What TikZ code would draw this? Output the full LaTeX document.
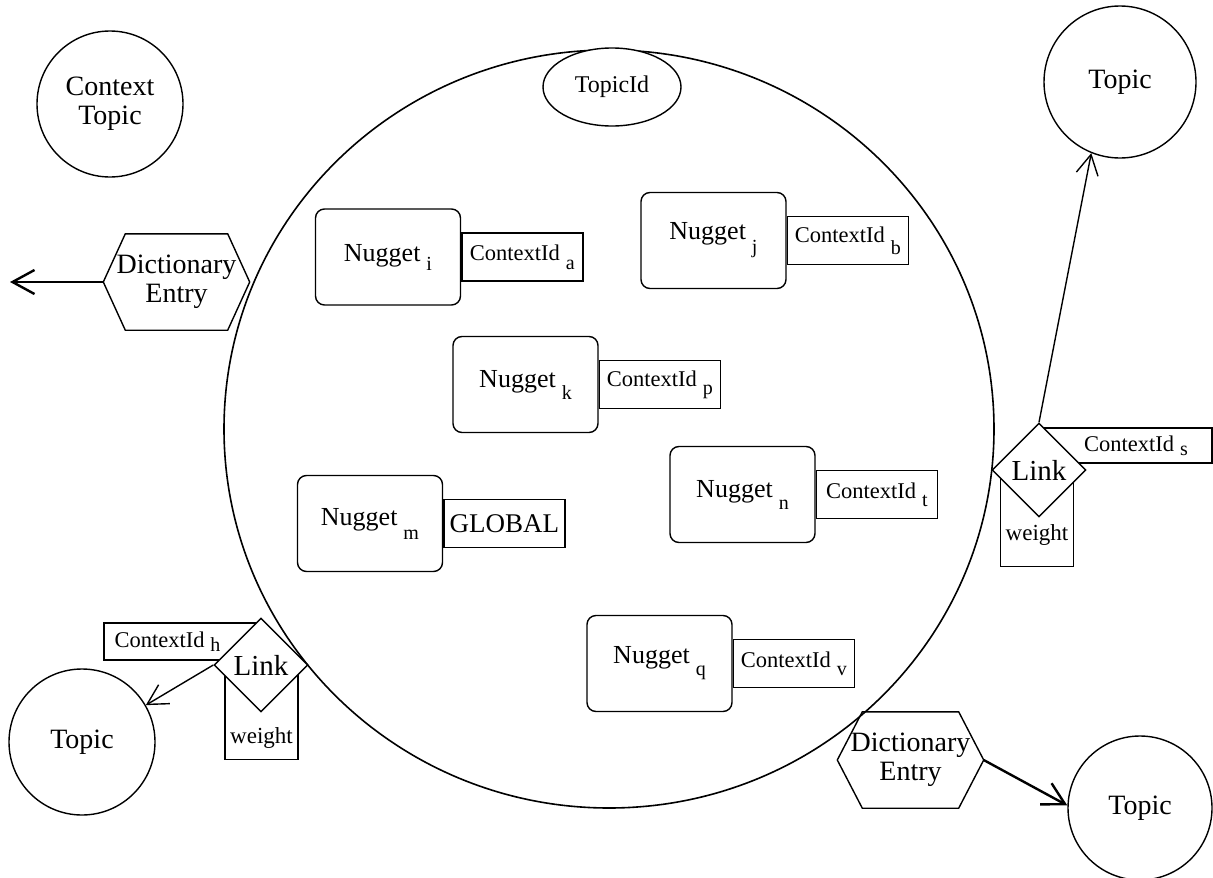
\documentclass[tikz,border=0pt]{standalone}
\usepackage{fontspec}
\setmainfont{Liberation Serif}
\usetikzlibrary{shapes.geometric,arrows.meta}
\newcommand{\lsub}[2][9pt]{\hspace{6pt}\raisebox{-#1}{\fontsize{20}{20}\selectfont #2}}
\begin{document}
\begin{tikzpicture}[x=1pt,y=-1pt,
  base/.style={line width=1.4pt},
  big/.style={font=\fontsize{28}{29}\selectfont},
  nug/.style={base,draw,rounded corners=9pt,minimum width=145pt,minimum height=96pt,inner sep=0pt,font=\fontsize{26}{28}\selectfont},
  ctx/.style={base,draw,minimum width=121pt,minimum height=48pt,inner sep=0pt,font=\fontsize{22.5}{24}\selectfont,anchor=west},
  topic/.style={base,draw,circle,inner sep=0pt,big,align=center},
  hexnode/.style={minimum width=146pt,minimum height=96pt,inner sep=0pt,big,align=center},
  linkd/.style={base,draw,diamond,fill=white,minimum width=94pt,minimum height=94pt,inner sep=0pt,font=\fontsize{29}{30}\selectfont},
  wbox/.style={base,draw,minimum width=73pt,inner sep=0pt,font=\fontsize{23}{24}\selectfont,anchor=south},
  arr/.style={line width=1.4pt,-{Straight Barb[length=20pt,width=22pt]}},
  thickarr/.style={line width=2.4pt,-{Straight Barb[length=22pt,width=24pt]}},
]
\useasboundingbox (0,0) rectangle (1213,878);
% main topic (circle)
\node[draw,ellipse,minimum width=770pt,minimum height=758pt,line width=1.6pt,inner sep=0pt] (main) at (609,429) {};
\node[base,draw,ellipse,fill=white,minimum width=138pt,minimum height=78pt,inner sep=0pt,font=\fontsize{24}{24}\selectfont] (tid) at (612,87) {TopicId};
% topics
\node[topic,minimum size=146pt] (ct) at (110,104) {Context\\Topic};
\node[topic,minimum size=152pt] (tr) at (1120,82) {Topic};
\node[topic,minimum size=146pt] (bl) at (82,742) {Topic};
\node[topic,minimum size=144pt] (br) at (1140,808) {Topic};
% dictionary entries
\node[hexnode] (de1) at (176.5,282) {Dictionary\\Entry};
\draw[base] (de1.west) -- ([xshift=22pt]de1.north west) -- ([xshift=-22pt]de1.north east) -- (de1.east) -- ([xshift=-22pt]de1.south east) -- ([xshift=22pt]de1.south west) -- cycle;
\node[hexnode] (de2) at (910.5,760) {Dictionary\\Entry};
\draw[base] (de2.west) -- ([xshift=25pt]de2.north west) -- ([xshift=-25pt]de2.north east) -- (de2.east) -- ([xshift=-25pt]de2.south east) -- ([xshift=25pt]de2.south west) -- cycle;
\coordinate (de1end) at (10,282);
\draw[thickarr] (de1.west) -- (de1end);
\draw[thickarr] (de2.east) -- (br.178);
% nuggets
\node[nug] (ni) at (388,257) {Nugget\lsub{i}};
\node[ctx] (ca) at (ni.east) {ContextId\lsub{a}};
\node[nug] (nj) at (713.5,240.5) {Nugget\lsub[14pt]{j}};
\node[ctx] (cb) at (nj.east) {ContextId\lsub[12pt]{b}};
\node[nug] (nk) at (525.5,384.5) {Nugget\lsub[12pt]{k}};
\node[ctx] (cp) at (nk.east) {ContextId\lsub[8pt]{p}};
\node[nug] (nm) at (370,523.5) {Nugget\lsub[14pt]{m}};
\node[ctx,font=\fontsize{27}{28}\selectfont] (cg) at (nm.east) {GLOBAL};
\node[nug] (nn) at (742.5,494.5) {Nugget\lsub[12pt]{n}};
\node[ctx] (ct) at (nn.east) {ContextId\lsub[8pt]{t}};
\node[nug] (nq) at (659.5,663.5) {Nugget\lsub[12pt]{q}};
\node[ctx] (cv) at (nq.east) {ContextId\lsub[8pt]{v}};
% right link
\node[base,draw,minimum width=172pt,minimum height=35pt,inner sep=0pt,font=\fontsize{22.5}{24}\selectfont] (cs) at (1126,445.5) {\hspace*{20pt}ContextId\lsub[4pt]{s}};
\node[wbox,minimum height=97pt,text height=51pt,text depth=6pt] (wr) at (1037,567) {weight};
\node[linkd] (lr) at (1039,470) {Link};
\draw[arr] (lr.north) -- (tr.248);
% left link
\node[base,draw,minimum width=151pt,minimum height=37pt,inner sep=0pt,font=\fontsize{22.5}{24}\selectfont] (ch) at (179.5,641.5) {ContextId\lsub[4pt]{h}\hspace*{24pt}};
\node[wbox,minimum height=95pt,text height=70pt,text depth=6pt] (wl) at (261.5,760) {weight};
\node[linkd] (ll) at (261,665) {Link};
\draw[arr] (ll.west) -- (bl.30);
\end{tikzpicture}
\end{document}
